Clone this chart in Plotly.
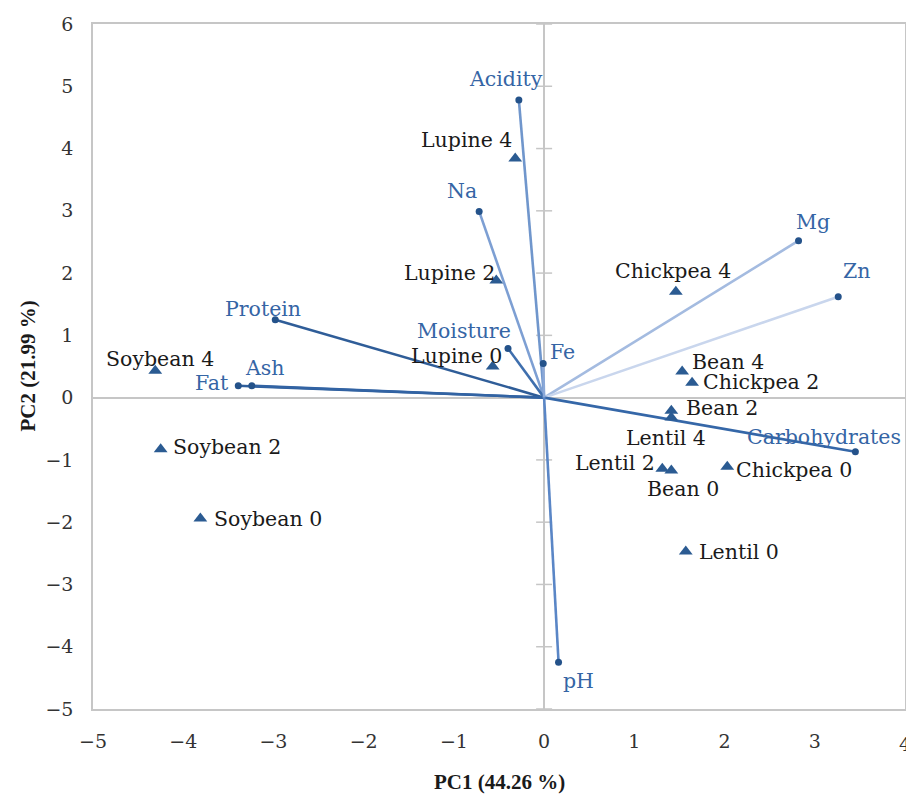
import plotly.graph_objects as go

# ---- data ----
sample_names = ["Lupine 4", "Lupine 2", "Lupine 0", "Chickpea 4", "Bean 4", "Chickpea 2",
                "Bean 2", "Lentil 4", "Lentil 2", "Bean 0", "Chickpea 0", "Lentil 0",
                "Soybean 4", "Soybean 2", "Soybean 0"]
sample_pc1 = [-0.32, -0.53, -0.57, 1.46, 1.53, 1.64, 1.41, 1.41, 1.31, 1.41, 2.03, 1.57, -4.31, -4.25, -3.81]
sample_pc2 = [3.84, 1.88, 0.50, 1.70, 0.42, 0.24, -0.21, -0.32, -1.14, -1.17, -1.11, -2.47, 0.43, -0.83, -1.94]

var_names = ["Acidity", "Na", "Mg", "Zn", "Carbohydrates", "Protein", "Fat", "Ash", "Moisture", "Fe", "pH"]
var_pc1 = [-0.28, -0.72, 2.82, 3.26, 3.45, -2.98, -3.39, -3.24, -0.40, -0.01, 0.16]
var_pc2 = [4.78, 2.99, 2.52, 1.62, -0.87, 1.25, 0.19, 0.19, 0.79, 0.55, -4.25]

x_ticks = [-5, -4, -3, -2, -1, 0, 1, 2, 3, 4]
y_ticks = [-5, -4, -3, -2, -1, 0, 1, 2, 3, 4, 5, 6]

# ---- styles ----
var_line_colors = ["#7096cc", "#7d9fd3", "#a4bbe0", "#c9d6ed", "#3567a8", "#2f5d98",
                   "#2f5f9c", "#3263a3", "#3f6fae", "#8aa8d8", "#5a86c6"]
# label offsets in pixels: (xanchor, xshift, yshift)
var_label_pos = [("center", -13, 21), ("center", -17, 20), ("center", 14, 19), ("center", 18, 26),
                 ("center", -31, 15), ("center", -12, 11), ("right", -7, 3), ("center", 13, 18),
                 ("center", -44, 17), ("center", 19, 11), ("center", 20, -19)]
sample_label_pos = [("center", -49, 19), ("center", -47, 8), ("center", -36, 11), ("center", -3, 21),
                    ("left", 8, 9), ("left", 9, 1), ("left", 13, 3), ("center", -5, -20),
                    ("right", -5, 6), ("center", 12, -18), ("left", 7, -3), ("left", 11, -1),
                    ("center", 5, 12), ("left", 10, 2), ("left", 12, -1)]

FONT = "DejaVu Serif"
LABEL_SIZE = 20.5
VAR_TEXT = "#3565a5"
DOT = "#24528a"
TRI = "#2b5b92"
FRAME = "#c6c6c6"
TICK_FONT = dict(family=FONT, size=19, color="#333333")

fig = go.Figure()

for name, x, y, col in zip(var_names, var_pc1, var_pc2, var_line_colors):
    fig.add_trace(go.Scatter(x=[0, x], y=[0, y], mode="lines",
                             line=dict(color=col, width=2.6), hoverinfo="skip", showlegend=False))
fig.add_trace(go.Scatter(x=var_pc1, y=var_pc2, mode="markers",
                         marker=dict(color=DOT, size=7), showlegend=False, text=var_names))
fig.add_trace(go.Scatter(x=sample_pc1, y=sample_pc2, mode="markers",
                         marker=dict(color=TRI, size=12, symbol="triangle-up"),
                         showlegend=False, text=sample_names))

annotations = []
for name, x, y, (xa, dx, dy) in zip(var_names, var_pc1, var_pc2, var_label_pos):
    annotations.append(dict(x=x, y=y, text=name, showarrow=False, xanchor=xa, yanchor="middle",
                            xshift=dx, yshift=dy, font=dict(family=FONT, size=LABEL_SIZE, color=VAR_TEXT)))
for name, x, y, (xa, dx, dy) in zip(sample_names, sample_pc1, sample_pc2, sample_label_pos):
    annotations.append(dict(x=x, y=y, text=name, showarrow=False, xanchor=xa, yanchor="middle",
                            xshift=dx, yshift=dy, font=dict(family=FONT, size=LABEL_SIZE, color="#1a1a1a")))
# last x tick label sits on the right edge (plotly drops it), so draw it as text
annotations.append(dict(x=x_ticks[-1], xref="x", yref="paper", y=0, yanchor="top", yshift=-22,
                        text=str(x_ticks[-1]), showarrow=False, font=TICK_FONT))
annotations.append(dict(xref="paper", yref="paper", x=0.5, y=0, yanchor="middle", yshift=-73,
                        text="<b>PC1 (44.26 %)</b>", showarrow=False,
                        font=dict(family="Liberation Serif", size=21, color="#1a1a1a")))
annotations.append(dict(xref="paper", yref="paper", x=0, y=0.5, xanchor="center", xshift=-66,
                        text="<b>PC2 (21.99 %)</b>", showarrow=False, textangle=-90,
                        font=dict(family="Liberation Serif", size=21, color="#1a1a1a")))

shapes = []
for t in y_ticks:
    shapes.append(dict(type="line", xref="x", yref="y", xsizemode="pixel", xanchor=0,
                       x0=-8, x1=8, y0=t, y1=t, line=dict(color=FRAME, width=1.5), layer="below"))

fig.update_layout(
    width=906, height=795,
    margin=dict(l=93, r=1, t=24, b=86, autoexpand=False),
    plot_bgcolor="white", paper_bgcolor="white",
    annotations=annotations, shapes=shapes,
    xaxis=dict(range=[-5, 4], tickvals=x_ticks, showgrid=False, zeroline=True, automargin=False,
               zerolinecolor=FRAME, zerolinewidth=1.5, showline=True, linecolor=FRAME,
               linewidth=1.5, mirror=True, ticks="", ticklabelstandoff=14, tickfont=TICK_FONT),
    yaxis=dict(range=[-5, 6], tickvals=y_ticks, showgrid=False, zeroline=True, automargin=False,
               zerolinecolor=FRAME, zerolinewidth=1.5, showline=True, linecolor=FRAME,
               linewidth=1.5, mirror=True, ticks="", ticklabelstandoff=14, tickfont=TICK_FONT),
)

fig.write_html("out.html", config={"displayModeBar": False},
               post_script="document.body.style.margin='0';document.body.style.overflow='hidden';")
